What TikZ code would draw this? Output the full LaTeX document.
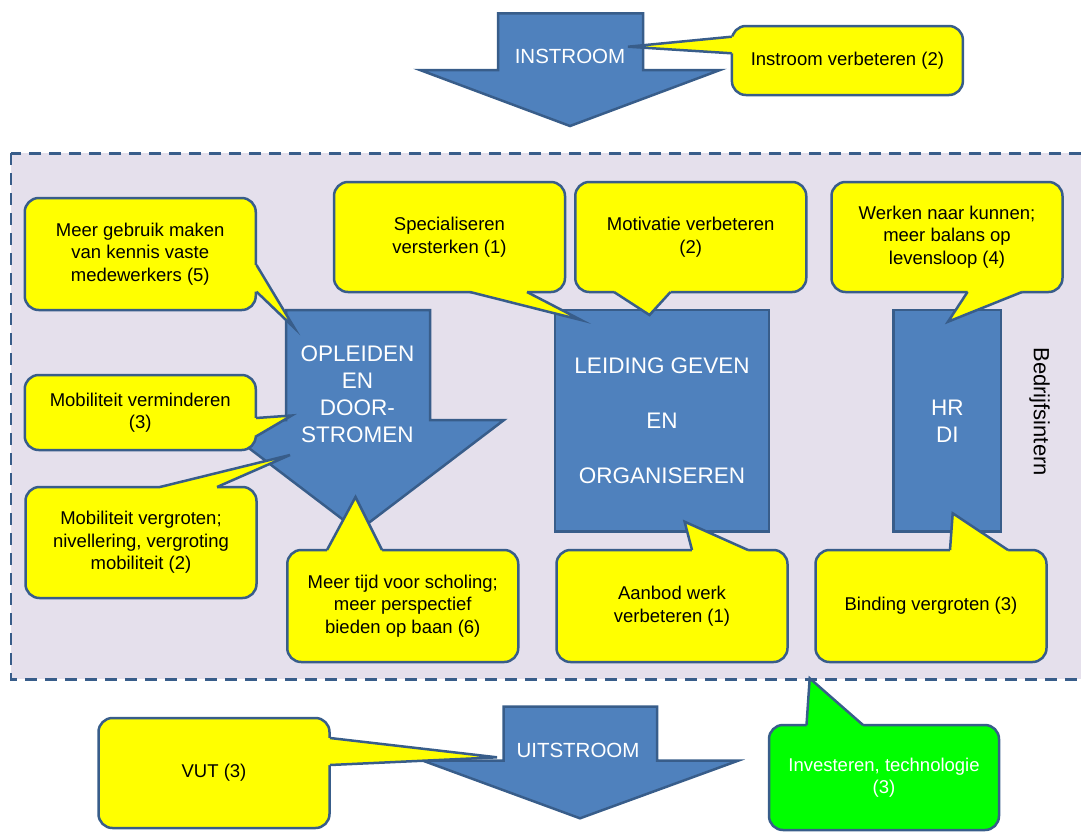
\documentclass[tikz,border=0pt]{standalone}
\usepackage{fontspec}
\setmainfont{Liberation Sans}
\definecolor{rim}{HTML}{385D8A}
\definecolor{blockblue}{HTML}{4F81BD}
\definecolor{lilac}{HTML}{E5E0EC}
\definecolor{callyellow}{HTML}{FFFF00}
\definecolor{callgreen}{HTML}{00FF00}

\begin{document}
\begin{tikzpicture}[x=1pt,y=-1pt]
\tikzset{block/.style = {draw=rim, fill=blockblue, line width=2.5pt}}
\tikzset{blocktext/.style = {text=white, align=center, font=\fontsize{22.5}{27}\selectfont}}
\tikzset{bubble/.style = {draw=rim, fill=callyellow, line width=2.5pt, rounded corners=14pt, align=center, inner sep=0pt, minimum width=231, font=\fontsize{18.5}{22.5}\selectfont}}
\tikzset{tail/.style = {draw=rim, line width=2.5pt}}
\useasboundingbox (0,0) rectangle (1081,831);

\draw[draw=rim, fill=lilac, line width=2.5pt, dash pattern=on 12pt off 8pt] (11,153.3) rectangle (1100,679.3);
\node[rotate=-90, font=\fontsize{22}{26}\selectfont] (intern) at (1039.5,411.7) {Bedrijfsintern};

\draw[block] (498,13.3) -- (643,13.3) -- (643,70) -- (720,70) -- (570,126) -- (420,70) -- (498,70) -- cycle;
\node[blocktext, font=\fontsize{20.5}{24}\selectfont] (instroom) at (570,56.7) {INSTROOM};
\draw[block] (286,310) -- (430,310) -- (430,420) -- (504,420) -- (358,531) -- (212,420) -- (286,420) -- cycle;
\node[blocktext] (opleiden) at (357.4,394) {OPLEIDEN\\EN\\DOOR-\\STROMEN};
\node[block, blocktext, font=\fontsize{22.5}{54.7}\selectfont, minimum width=214, minimum height=221.7] (leiding) at (662,420.85) {LEIDING GEVEN\\EN\\ORGANISEREN};
\node[block, blocktext, minimum width=107.3, minimum height=221.7] (hr) at (947.35,420.85) {HR\\DI};
\draw[block] (503.5,706.7) -- (657,706.7) -- (657,760.7) -- (738,760.7) -- (580,818.3) -- (423,760.7) -- (503.5,760.7) -- cycle;
\node[blocktext, font=\fontsize{20.5}{24}\selectfont] (uitstroom) at (578,750) {UITSTROOM};

\node[bubble, minimum height=69] (inst) at (847.4,60.5) {Instroom verbeteren (2)};
\coordinate (p1) at (628,46.7);
\fill[callyellow] (731.7,36.7) -- (p1) -- (731.7,53.3) -- ++(5,0) -- (736.7,36.7) -- cycle;
\draw[tail] (731.7,36.7) -- (p1) -- (731.7,53.3);

\node[bubble, minimum height=112] (kennis) at (140.25,254) {Meer gebruik maken\\van kennis vaste\\medewerkers (5)};
\coordinate (p2) at (294.4,328);
\fill[callyellow] (256.5,265) -- (p2) -- (256.5,291.7) -- ++(-5,0) -- (251.5,265) -- cycle;
\draw[tail] (256.5,265) -- (p2) -- (256.5,291.7);

\node[bubble, minimum height=75] (minder) at (140.25,412.5) {Mobiliteit verminderen\\(3)};
\coordinate (p3) at (291.7,415.5);
\fill[callyellow] (256,418) -- (p3) -- (255,437) -- ++(-5,0) -- (251,418) -- cycle;
\draw[tail] (256,418) -- (p3) -- (255,437);

\node[bubble, minimum height=111] (groter) at (141,542.5) {Mobiliteit vergroten;\\nivellering, vergroting\\mobiliteit (2)};
\coordinate (p4) at (290,455);
\fill[callyellow] (160,487) -- (p4) -- (217,487) -- ++(0,5) -- (160,492) -- cycle;
\draw[tail] (160,487) -- (p4) -- (217,487);

\node[bubble, minimum height=112] (scholing) at (402.75,606) {Meer tijd voor scholing;\\meer perspectief\\bieden op baan (6)};
\coordinate (p5) at (355.5,497);
\fill[callyellow] (327,550) -- (p5) -- (382,550) -- ++(0,5) -- (327,555) -- cycle;
\draw[tail] (327,550) -- (p5) -- (382,550);

\node[bubble, minimum height=110] (special) at (449.5,237) {Specialiseren\\versterken (1)};
\coordinate (p6) at (581,320);
\fill[callyellow] (470,292) -- (p6) -- (527,292) -- ++(0,-5) -- (470,287) -- cycle;
\draw[tail] (470,292) -- (p6) -- (527,292);

\node[bubble, minimum height=110] (motivatie) at (690.75,237) {Motivatie verbeteren\\(2)};
\coordinate (p7) at (649.5,315);
\fill[callyellow] (614,292) -- (p7) -- (670.5,292) -- ++(0,-5) -- (614,287) -- cycle;
\draw[tail] (614,292) -- (p7) -- (670.5,292);

\node[bubble, minimum height=110] (werken) at (947,237) {Werken naar kunnen;\\meer balans op\\levensloop (4)};
\coordinate (p8) at (948,321.7);
\fill[callyellow] (967.5,292) -- (p8) -- (1022,292) -- ++(0,-5) -- (967.5,287) -- cycle;
\draw[tail] (967.5,292) -- (p8) -- (1022,292);

\node[bubble, minimum height=112] (aanbod) at (672,606) {Aanbod werk\\verbeteren (1)};
\coordinate (p9) at (684.6,521.7);
\fill[callyellow] (692,550) -- (p9) -- (748,550) -- ++(0,5) -- (692,555) -- cycle;
\draw[tail] (692,550) -- (p9) -- (748,550);

\node[bubble, minimum height=112] (binding) at (931,606) {Binding vergroten (3)};
\coordinate (p10) at (952.7,513.3);
\fill[callyellow] (950,550) -- (p10) -- (1008,550) -- ++(0,5) -- (950,555) -- cycle;
\draw[tail] (950,550) -- (p10) -- (1008,550);

\node[bubble, minimum height=110] (vut) at (214,773) {VUT (3)};
\coordinate (p11) at (497,757.3);
\fill[callyellow] (330,738) -- (p11) -- (330,765) -- ++(-5,0) -- (325,738) -- cycle;
\draw[tail] (330,738) -- (p11) -- (330,765);

\node[bubble, fill=callgreen, text=white, minimum width=230, minimum height=105] (techniek) at (884,777.5) {Investeren, technologie\\(3)};
\coordinate (p12) at (809.7,678.3);
\fill[callgreen] (806.5,725) -- (p12) -- (863,725) -- ++(0,5) -- (806.5,730) -- cycle;
\draw[tail] (806.5,725) -- (p12) -- (863,725);
\end{tikzpicture}
\end{document}
